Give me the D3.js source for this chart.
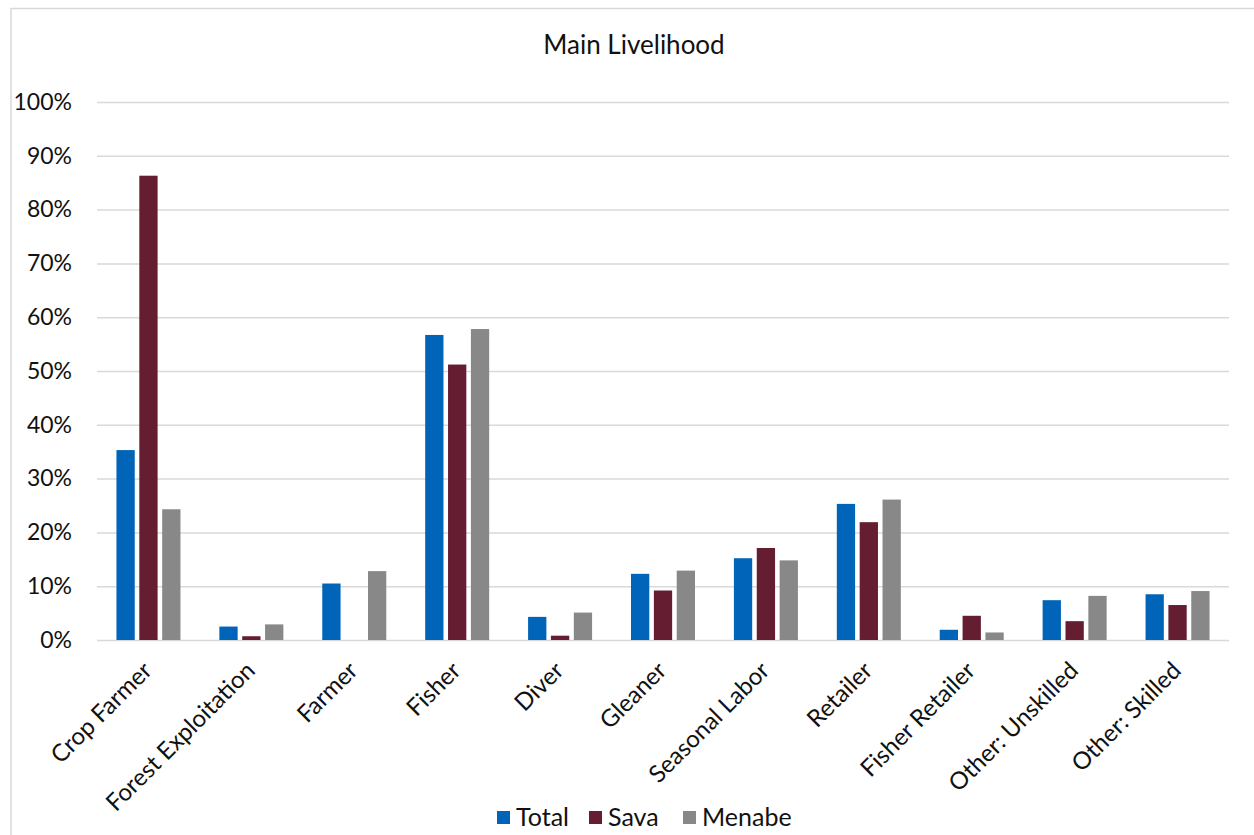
<!DOCTYPE html>
<html>
<head>
<meta charset="utf-8">
<script src="https://cdn.jsdelivr.net/npm/d3@7"></script>
<style>
  html, body { margin: 0; padding: 0; background: #fff; }
  svg { display: block; }
  svg text { font-family: "Lato", "Open Sans", sans-serif; }
</style>
</head>
<body>
<svg id="chart" width="1254" height="835"></svg>
<script>
// Main livelihood shares by region
const categories = ["Crop Farmer", "Forest Exploitation", "Farmer", "Fisher", "Diver", "Gleaner",
  "Seasonal Labor", "Retailer", "Fisher Retailer", "Other: Unskilled", "Other: Skilled"];
const seriesNames = ["Total", "Sava", "Menabe"];
const totalValues  = [0.353, 0.025, 0.105, 0.567, 0.043, 0.123, 0.152, 0.253, 0.019, 0.074, 0.085];
const savaValues   = [0.863, 0.007, 0.000, 0.512, 0.008, 0.092, 0.171, 0.219, 0.045, 0.035, 0.065];
const menabeValues = [0.243, 0.029, 0.128, 0.578, 0.051, 0.129, 0.148, 0.261, 0.014, 0.082, 0.091];
const seriesColors = ["#0064B8", "#641D31", "#888888"];
const yTicks = [0, 0.1, 0.2, 0.3, 0.4, 0.5, 0.6, 0.7, 0.8, 0.9, 1.0];

const seriesValues = [totalValues, savaValues, menabeValues];
const rows = categories.map((c, i) => ({
  category: c,
  values: seriesNames.map((s, k) => ({ series: s, value: seriesValues[k][i] }))
}));

const svg = d3.select("#chart");
const margin = { left: 97, right: 25, top: 102, bottom: 195 };
const W = 1254, H = 835;
const FONT = '"Lato", "Open Sans", sans-serif';

// chart frame
svg.append("path")
  .attr("d", `M11,${H} V8.5 H${W}`)
  .attr("fill", "none")
  .attr("stroke", "#d9d9d9")
  .attr("stroke-width", 1.5);

const x = d3.scaleBand()
  .domain(categories)
  .range([margin.left, W - margin.right])
  .paddingInner(0.378)
  .paddingOuter(0.189);

const xs = d3.scaleBand()
  .domain(seriesNames)
  .range([0, x.bandwidth()])
  .paddingInner(0.2);

const y = d3.scaleLinear().domain([0, 1]).range([H - margin.bottom, margin.top]);

// y axis with gridlines
const yAxis = svg.append("g")
  .attr("transform", `translate(${margin.left},0)`)
  .call(d3.axisLeft(y).tickValues(yTicks).tickFormat(d3.format(".0%"))
    .tickSize(-(W - margin.right - margin.left)).tickPadding(25))
  .attr("font-family", FONT);
yAxis.select(".domain").remove();
yAxis.selectAll(".tick line").attr("stroke", "#d9d9d9").attr("stroke-width", 1.5);
yAxis.selectAll(".tick text").attr("fill", "#111").attr("font-size", 23);

// bars
const groups = svg.append("g").selectAll("g")
  .data(rows).join("g")
  .attr("transform", d => `translate(${x(d.category)},0)`);

groups.selectAll("rect")
  .data(d => d.values).join("rect")
  .attr("x", d => xs(d.series))
  .attr("width", xs.bandwidth())
  .attr("y", d => y(d.value))
  .attr("height", d => y(0) - y(d.value))
  .attr("fill", (d, i) => seriesColors[i]);

// x axis labels
const xAxis = svg.append("g")
  .attr("transform", `translate(0,${y(0)})`)
  .call(d3.axisBottom(x).tickSize(0).tickPadding(0))
  .attr("font-family", FONT);
xAxis.select(".domain").remove();
xAxis.selectAll(".tick text")
  .attr("font-size", 24)
  .attr("fill", "#111")
  .attr("text-anchor", "end")
  .attr("dy", null)
  .attr("y", 0)
  .attr("transform", "translate(5,32) rotate(-45)");

// title
svg.append("text")
  .attr("x", 634).attr("y", 54)
  .attr("text-anchor", "middle")
  .attr("font-size", 26)
  .attr("fill", "#111")
  .text("Main Livelihood");

// legend
const legendX = [497, 589, 683];
const legend = svg.append("g").selectAll("g")
  .data(seriesNames).join("g")
  .attr("transform", (d, i) => `translate(${legendX[i]},811)`);
legend.append("rect")
  .attr("width", 13).attr("height", 13)
  .attr("fill", (d, i) => seriesColors[i]);
legend.append("text")
  .attr("x", 19).attr("y", 15)
  .attr("font-size", 25)
  .attr("fill", "#111")
  .text(d => d);
</script>
</body>
</html>
